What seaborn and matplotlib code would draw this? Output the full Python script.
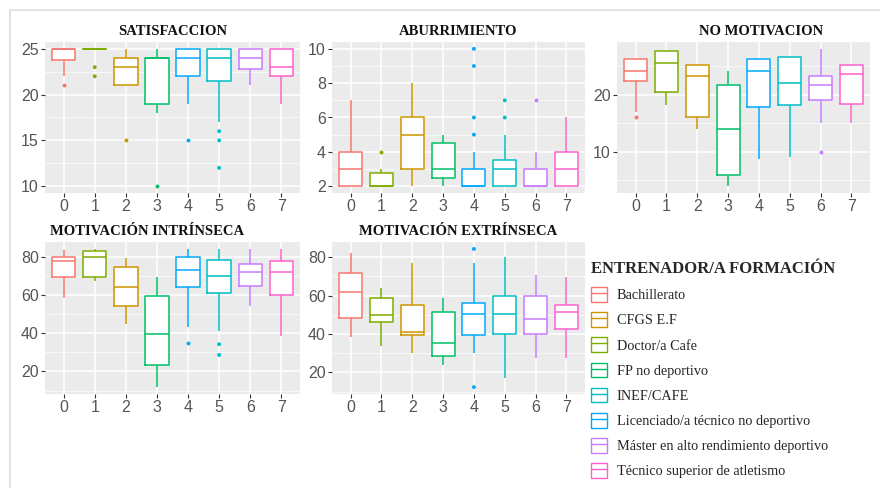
import numpy as np
import pandas as pd
import seaborn as sns
import matplotlib.pyplot as plt
from matplotlib.patches import Patch
from matplotlib.lines import Line2D
from matplotlib.legend_handler import HandlerTuple

# categories on the x axis and their colours as drawn
cats = ["0", "1", "2", "3", "4", "5", "6", "7"]
box_colors = ["#F8766D", "#7CAE00", "#CD9600", "#00BE67",
              "#00A9FF", "#00BFC4", "#C77CFF", "#FF61CC"]

# legend entries
formacion = ["Bachillerato", "CFGS E.F", "Doctor/a Cafe", "FP no deportivo",
             "INEF/CAFE", "Licenciado/a técnico no deportivo",
             "Máster en alto rendimiento deportivo", "Técnico superior de atletismo"]
legend_colors = ["#F8766D", "#CD9600", "#7CAE00", "#00BE67",
                 "#00BFC4", "#00A9FF", "#C77CFF", "#FF61CC"]

# each box: [lower whisker, q1, median, q3, upper whisker]
satisfaccion = [[22, 23.75, 25, 25, 25], [25, 25, 25, 25, 25], [21, 21, 23, 24, 25],
                [18, 19, 24, 24, 25], [19, 22, 24, 25, 25], [17, 21.5, 24, 25, 25],
                [21, 22.75, 24, 25, 25], [19, 22, 23, 25, 25]]
satisfaccion_out = [[21], [23, 22], [15], [10], [15], [16, 15, 12], [], []]

aburrimiento = [[2, 2, 3, 4, 7], [2, 2, 2, 2.75, 3], [2, 3, 5, 6, 8], [2, 2.5, 3, 4.5, 5],
                [2, 2, 2, 3, 4], [2, 2, 3, 3.5, 5], [2, 2, 2, 3, 4], [2, 2, 3, 4, 6]]
aburrimiento_out = [[], [4], [], [], [5, 6, 9, 10], [6, 7], [7], []]

no_motivacion = [[17, 22.4, 24.2, 26.3, 26.3], [18.1, 20.4, 25.6, 27.6, 27.6],
                 [14, 16, 23.2, 25.1, 25.1], [4, 6, 14, 21.6, 24.2],
                 [8.8, 17.9, 24.2, 26.3, 26.3], [9.1, 18.1, 22, 26.6, 26.6],
                 [15, 19, 21.7, 23.2, 28], [15, 18.3, 23.6, 25.1, 25.1]]
no_motivacion_out = [[16], [], [], [], [], [], [10], []]

intrinseca = [[58.6, 69.4, 77.9, 80, 83.4], [67.2, 69.4, 80, 82.7, 84],
              [44.9, 54.3, 64.2, 74.5, 79.1], [11.8, 23.1, 39.7, 59.4, 69.2],
              [43.1, 64.1, 72.8, 80, 83.8], [40.9, 60.8, 70.1, 78.3, 83.8],
              [54.3, 64.6, 72, 76.1, 84], [38.3, 60.1, 72, 77.8, 84]]
intrinseca_out = [[], [], [], [], [34.9], [34.2, 28.6], [], []]

extrinseca = [[38.3, 48.3, 61.7, 71.9, 82], [33.7, 46.2, 49.8, 58.6, 64.1],
              [29.9, 39.2, 41.1, 55, 76.9], [23.8, 28.6, 35.1, 51.5, 58.9],
              [29.9, 39.7, 50.5, 56.2, 77.1], [16.9, 40.2, 50.5, 60, 80],
              [27.2, 40.2, 47.8, 60, 70.9], [27.7, 42.6, 51.2, 55.1, 69.7]]
extrinseca_out = [[], [], [], [], [84.3, 12.3], [], [], []]

sns.set_theme(style="darkgrid", rc={
    "axes.facecolor": "#EBEBEB",
    "grid.color": "white",
    "grid.linewidth": 1.1,
    "figure.facecolor": "white",
})
plt.rcParams["font.family"] = ["Liberation Sans", "DejaVu Sans"]

fig = plt.figure(figsize=(8.8, 4.88), dpi=100)
W, H = 880, 488

def px_axes(x0, y0, x1, y1):
    return fig.add_axes([x0 / W, 1 - y1 / H, (x1 - x0) / W, (y1 - y0) / H])

panels = [
    ("SATISFACCION", satisfaccion, satisfaccion_out, [10, 15, 20, 25], (45, 42, 300, 193), 0.5),
    ("ABURRIMIENTO", aburrimiento, aburrimiento_out, [2, 4, 6, 8, 10], (332, 42, 585, 193), 0.5),
    ("NO MOTIVACION", no_motivacion, no_motivacion_out, [10, 20], (617, 42, 870, 193), 0.57),
    ("MOTIVACIÓN INTRÍNSECA", intrinseca, intrinseca_out, [20, 40, 60, 80], (45, 242, 300, 394), 0.40),
    ("MOTIVACIÓN EXTRÍNSECA", extrinseca, extrinseca_out, [20, 40, 60, 80], (332, 242, 585, 394), 0.5),
]

pal = dict(zip(cats, box_colors))

for title, boxes, outs, yticks, pos, tx in panels:
    ax = px_axes(*pos)
    df = pd.DataFrame([(c, v) for c, b in zip(cats, boxes) for v in b], columns=["cat", "val"])
    od = pd.DataFrame([(c, v) for c, o in zip(cats, outs) for v in o], columns=["cat", "val"])

    # white box bodies, then coloured outlines on top
    sns.boxplot(data=df, x="cat", y="val", order=cats, color="white", linecolor="white",
                linewidth=0, whis=(0, 100), showcaps=False, showfliers=False,
                width=0.75, saturation=1, ax=ax)
    sns.boxplot(data=df, x="cat", y="val", hue="cat", order=cats, hue_order=cats,
                palette=pal, fill=False, whis=(0, 100), showcaps=False, showfliers=False,
                width=0.75, linewidth=1.1, saturation=1, legend=False, ax=ax)
    if len(od):
        sns.stripplot(data=od, x="cat", y="val", hue="cat", order=cats, hue_order=cats,
                      palette=pal, jitter=False, size=2.8, linewidth=0, legend=False, ax=ax)

    allv = df["val"].tolist() + od["val"].tolist()
    lo, hi = min(allv), max(allv)
    pad = 0.05 * (hi - lo)
    ax.set_ylim(lo - pad, hi + pad)
    ax.set_xlim(-0.6, 7.6)
    ax.set_yticks(yticks)
    step = yticks[1] - yticks[0]
    minor = np.arange(yticks[0] - step / 2, hi + pad, step)
    ax.set_yticks([m for m in minor if lo - pad < m < hi + pad], minor=True)
    ax.grid(which="minor", axis="y", color="white", linewidth=0.5)
    ax.grid(which="major", color="white", linewidth=1.1)
    ax.set_xlabel("")
    ax.set_ylabel("")
    for s in ax.spines.values():
        s.set_visible(False)
    ax.tick_params(which="major", left=True, bottom=True, length=3, width=0.8,
                   color="#333333", labelcolor="#555555", labelsize=11.5, pad=1.5)
    ax.tick_params(which="minor", left=False, length=0)
    ax.text(tx, 1.07, title, transform=ax.transAxes, ha="center", va="center",
            fontfamily="Liberation Serif", fontweight="bold", fontsize=10.5, color="#111111")

handles = [(Patch(facecolor="white", edgecolor=c, linewidth=1.0), Line2D([], [], color=c, lw=1.0))
           for c in legend_colors]
leg = fig.legend(handles, formacion, handler_map={tuple: HandlerTuple(ndivide=1)},
                 loc="upper left", bbox_to_anchor=(591 / W, 1 - 261 / H),
                 frameon=False, title="ENTRENADOR/A FORMACIÓN", alignment="left",
                 prop={"family": "Liberation Serif", "size": 10.3},
                 title_fontproperties={"family": "Liberation Serif", "weight": "bold", "size": 12},
                 handlelength=1.1, handleheight=1.2, handletextpad=0.7,
                 labelspacing=0.7, borderpad=0, borderaxespad=0)

# faint frame of the original screenshot
fig.add_artist(Line2D([10 / W, 1], [1 - 10 / H, 1 - 10 / H], color="#E2E2E2", lw=1.5,
                      transform=fig.transFigure))
fig.add_artist(Line2D([10 / W, 10 / W], [0, 1 - 10 / H], color="#E2E2E2", lw=1.5,
                      transform=fig.transFigure))

fig.savefig("out.png", dpi=100)
